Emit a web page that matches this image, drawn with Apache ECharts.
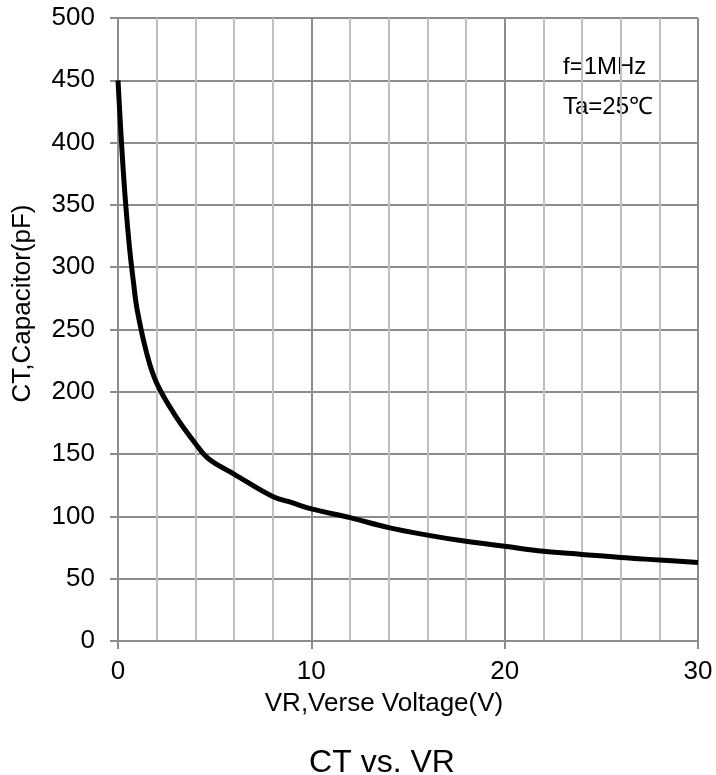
<!DOCTYPE html>
<html>
<head>
<meta charset="utf-8">
<script src="https://cdn.jsdelivr.net/npm/echarts@6/dist/echarts.min.js"></script>
<style>
html,body{margin:0;padding:0;background:#fff;}
#chart{width:716px;height:775px;}
</style>
</head>
<body>
<div id="chart"></div>
<script>
// Reverse voltage VR (V)
const vr = [0, 0.2, 0.4, 0.6, 0.8, 1, 1.5, 2, 3, 4, 4.7, 6, 8, 9, 10, 12, 14, 16, 18, 20, 22, 24, 26, 28, 30];
// Capacitance CT (pF)
const ct = [450, 395, 350, 315, 288, 265, 230, 207, 180, 158.5, 146, 134, 116, 111, 106, 99, 91, 85, 80, 76, 72, 69.5, 67, 65, 63];
const xTicks = [0, 10, 20, 30];
const yTicks = [0, 50, 100, 150, 200, 250, 300, 350, 400, 450, 500];
const notes = ['f=1MHz', 'Ta=25\u2103'];

const FONT = '"Liberation Sans", Arial, sans-serif';
const chart = echarts.init(document.getElementById('chart'));
chart.setOption({
  animation: false,
  backgroundColor: '#fff',
  title: {
    text: 'CT vs. VR',
    left: 377, top: 742,
    textAlign: 'center',
    textStyle: {fontFamily: FONT, fontWeight: 'normal', fontSize: 32, color: '#000'}
  },
  grid: {left: 118, right: 18, top: 18, bottom: 134},
  xAxis: {
    type: 'value', min: 0, max: 30, interval: 10,
    name: 'VR,Verse Voltage(V)',
    nameLocation: 'middle', nameGap: 50,
    nameTextStyle: {fontFamily: FONT, fontSize: 26, color: '#000', padding: [0, 48, 0, 0]},
    axisLine: {show: true, lineStyle: {color: '#8c8c8c', width: 2}},
    axisTick: {show: true, length: 8, lineStyle: {color: '#8c8c8c', width: 2}},
    axisLabel: {margin: 18, fontFamily: FONT, fontSize: 26, color: '#000',
      formatter: v => xTicks.includes(v) ? String(v) : ''},
    splitLine: {show: true, lineStyle: {color: '#8c8c8c', width: 2}},
    minorTick: {show: false, splitNumber: 5},
    minorSplitLine: {show: true, lineStyle: {color: '#c0c0c0', width: 2}}
  },
  yAxis: {
    type: 'value', min: 0, max: 500, interval: 50,
    name: 'CT,Capacitor(pF)',
    nameLocation: 'middle', nameGap: 82,
    nameTextStyle: {fontFamily: FONT, fontSize: 26, color: '#000', padding: [0, 0, 0, 52]},
    axisLine: {show: true, lineStyle: {color: '#8c8c8c', width: 2}},
    axisTick: {show: true, length: 8, lineStyle: {color: '#8c8c8c', width: 2}},
    axisLabel: {margin: 23, fontFamily: FONT, fontSize: 26, color: '#000',
      formatter: v => yTicks.includes(v) ? String(v) : ''},
    splitLine: {show: true, lineStyle: {color: '#8c8c8c', width: 2}}
  },
  graphic: notes.map((t, i) => ({
    type: 'text', left: 563, top: 55 + i * 40.5,
    style: {text: t, fontFamily: FONT, fontSize: 24, fill: '#000'}
  })),
  series: [{
    type: 'line',
    data: vr.map((v, i) => [v, ct[i]]),
    smooth: 0.4,
    showSymbol: false,
    lineStyle: {color: '#000', width: 5},
    z: 10
  }]
});
</script>
</body>
</html>
